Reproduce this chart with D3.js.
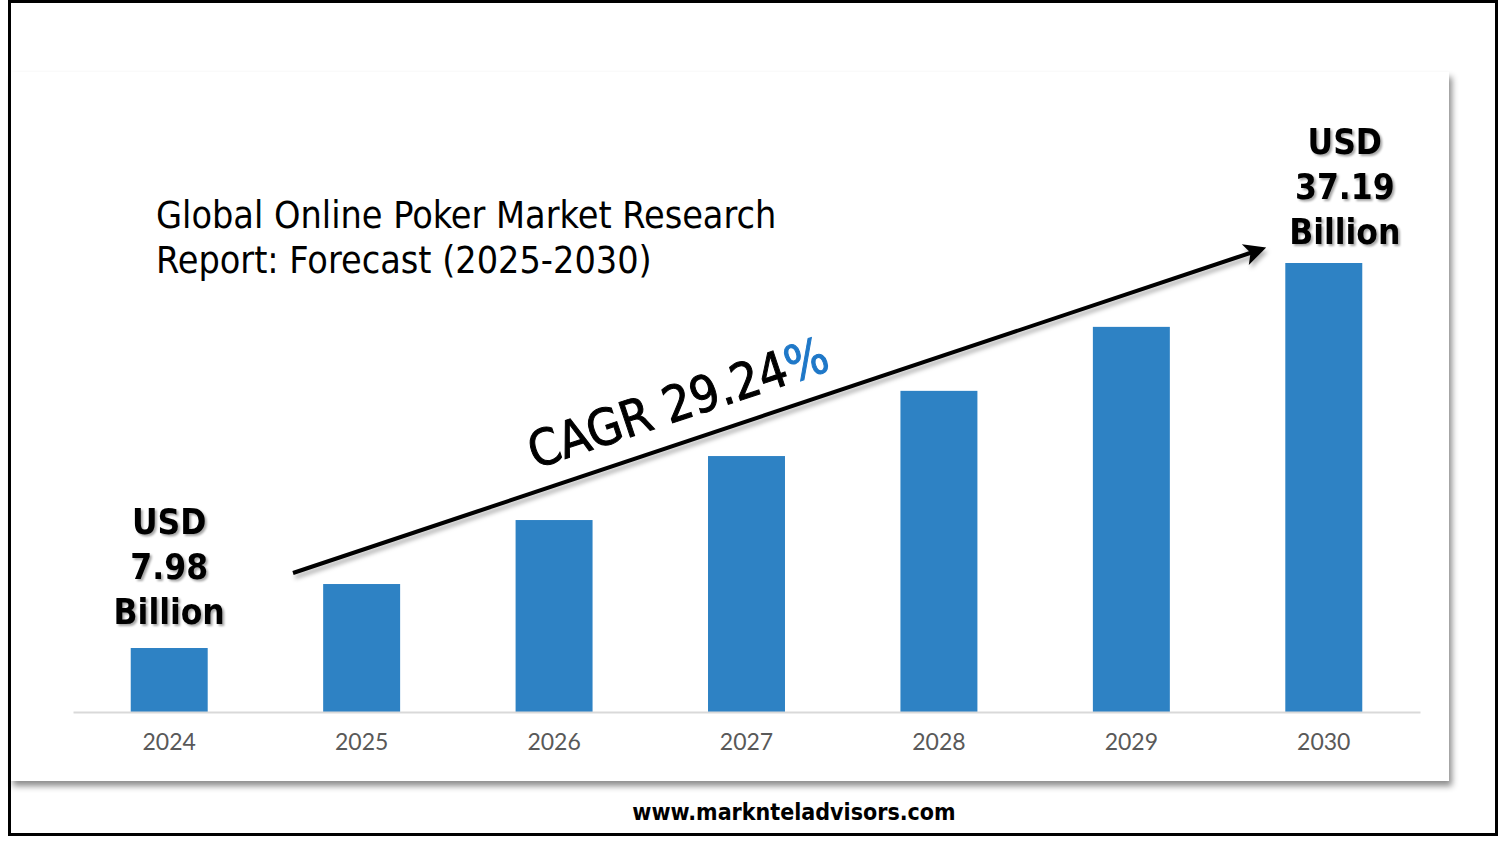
<!DOCTYPE html>
<html>
<head>
<meta charset="utf-8">
<script src="https://cdn.jsdelivr.net/npm/d3@7"></script>
<style>
  html, body { margin: 0; padding: 0; background: #ffffff; }
  svg { display: block; }
</style>
</head>
<body>
<svg id="chart" width="1499" height="842"></svg>
<script>
// ---- data ----
const years = ["2024", "2025", "2026", "2027", "2028", "2029", "2030"];
// bar heights as drawn (illustrative steps, USD billion scale where 2030 = 37.19)
const values = [5.30, 10.60, 15.90, 21.20, 26.60, 31.90, 37.19];
const startLabel = ["USD", "7.98", "Billion"];
const endLabel = ["USD", "37.19", "Billion"];
const titleLines = ["Global Online Poker Market Research", "Report: Forecast (2025-2030)"];
const cagrText = "CAGR 29.24";
const cagrPct = "%";
const sourceText = "www.marknteladvisors.com";

const svg = d3.select("#chart");
const W = 1499, H = 842;
const FONT = "'DejaVu Sans Condensed', 'DejaVu Sans', sans-serif";

const defs = svg.append("defs");
const panelShadow = defs.append("filter").attr("id", "panelShadow")
  .attr("x", "-5%").attr("y", "-5%").attr("width", "115%").attr("height", "115%");
panelShadow.append("feDropShadow").attr("dx", 3).attr("dy", 5)
  .attr("stdDeviation", 3).attr("flood-color", "#000").attr("flood-opacity", 0.45);

const textShadow = defs.append("filter").attr("id", "textShadow")
  .attr("x", "-20%").attr("y", "-20%").attr("width", "140%").attr("height", "150%");
textShadow.append("feDropShadow").attr("dx", 2).attr("dy", 2)
  .attr("stdDeviation", 1.2).attr("flood-color", "#000").attr("flood-opacity", 0.35);

const arrowShadow = defs.append("filter").attr("id", "arrowShadow")
  .attr("x", "-10%").attr("y", "-30%").attr("width", "120%").attr("height", "160%");
arrowShadow.append("feDropShadow").attr("dx", 2).attr("dy", 4)
  .attr("stdDeviation", 2).attr("flood-color", "#000").attr("flood-opacity", 0.3);

defs.append("marker").attr("id", "arrowHead")
  .attr("viewBox", "0 0 10 10").attr("refX", 8).attr("refY", 5)
  .attr("markerWidth", 6).attr("markerHeight", 5.5)
  .attr("markerUnits", "strokeWidth")
  .attr("orient", "auto")
  .append("path").attr("d", "M0,0 L10,5 L0,10 L2.5,5 Z").attr("fill", "#000");

// background
svg.append("rect").attr("width", W).attr("height", H).attr("fill", "#fff");

// panel
svg.append("rect").attr("x", 10).attr("y", 72).attr("width", 1439).attr("height", 709)
  .attr("fill", "#fff").attr("filter", "url(#panelShadow)");

// scales
const x = d3.scaleBand().domain(years).range([73, 1420]).paddingInner(0.6).paddingOuter(0.3);
const y = d3.scaleLinear().domain([0, 37.19]).range([712, 263]);

// bars
svg.append("g").selectAll("rect").data(values).join("rect")
  .attr("x", (d, i) => x(years[i]))
  .attr("y", d => y(d))
  .attr("width", x.bandwidth())
  .attr("height", d => y(0) - y(d))
  .attr("fill", "#2e82c4");

// x axis
const xAxis = svg.append("g").attr("transform", `translate(0,${y(0)})`)
  .call(d3.axisBottom(x).tickSize(0).tickPadding(22));
xAxis.select(".domain").attr("stroke", "#d9d9d9").attr("stroke-width", 2);
xAxis.selectAll(".tick text")
  .attr("font-family", "Lato, 'Open Sans', sans-serif")
  .attr("font-size", 23).attr("fill", "#595959")
  .attr("dy", "0.71em");

// title
const title = svg.append("text")
  .attr("font-family", FONT)
  .attr("font-stretch", "condensed")
  .attr("font-size", 37.4).attr("fill", "#000");
titleLines.forEach((t, i) => {
  title.append("tspan").attr("x", 156).attr("y", 228 + i * 45).text(t);
});

// arrow
const a0 = [293, 573], a1 = [1262, 249];
svg.append("line")
  .attr("x1", a0[0]).attr("y1", a0[1]).attr("x2", a1[0]).attr("y2", a1[1])
  .attr("stroke", "#000").attr("stroke-width", 4)
  .attr("marker-end", "url(#arrowHead)")
  .attr("filter", "url(#arrowShadow)");

// CAGR text
const ang = Math.atan2(a1[1] - a0[1], a1[0] - a0[0]) * 180 / Math.PI;
const cg = svg.append("text")
  .attr("transform", `translate(535,469) rotate(${ang})`)
  .attr("font-family", FONT)
  .attr("font-stretch", "condensed")
  .attr("font-size", 50).attr("fill", "#000")
  .attr("stroke", "#000").attr("stroke-width", 1);
cg.append("tspan").text(cagrText);
cg.append("tspan").attr("fill", "#1f78c8").attr("stroke", "#1f78c8").text(cagrPct);

// value labels
function valueLabel(lines, cx, y0) {
  const t = svg.append("text")
    .attr("text-anchor", "middle")
    .attr("font-family", FONT)
    .attr("font-stretch", "condensed")
    .attr("font-weight", "bold")
    .attr("font-size", 35).attr("fill", "#000")
    .attr("filter", "url(#textShadow)");
  lines.forEach((l, i) => {
    t.append("tspan").attr("x", cx).attr("y", y0 + i * 45).text(l);
  });
}
valueLabel(startLabel, x(years[0]) + x.bandwidth() / 2, 534);
valueLabel(endLabel, x(years[6]) + x.bandwidth() / 2 + 21, 154);

// source
svg.append("text")
  .attr("x", 794).attr("y", 820).attr("text-anchor", "middle")
  .attr("font-family", FONT)
  .attr("font-stretch", "condensed")
  .attr("font-weight", "bold")
  .attr("font-size", 23).attr("fill", "#000")
  .text(sourceText);

// outer frame
svg.append("rect").attr("x", 9.5).attr("y", 1.5).attr("width", 1487).attr("height", 833)
  .attr("fill", "none").attr("stroke", "#000").attr("stroke-width", 3);
</script>
</body>
</html>
